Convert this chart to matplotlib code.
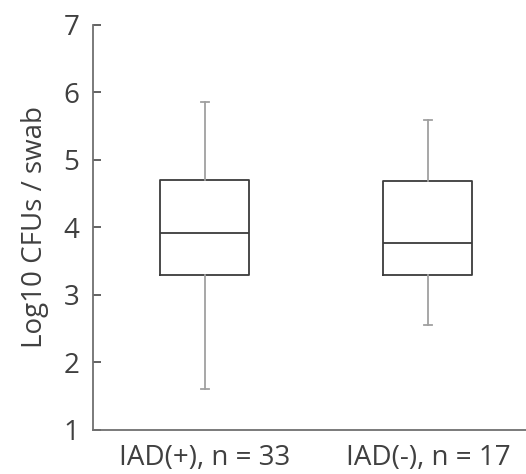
import matplotlib
matplotlib.use('Agg')
import matplotlib.pyplot as plt

# values
groups = ['IAD(+), n = 33', 'IAD(-), n = 17']
whisker_low = [1.60, 2.55]
q1 = [3.29, 3.30]
median = [3.91, 3.76]
q3 = [4.70, 4.69]
whisker_high = [5.85, 5.59]

plt.rcParams['font.family'] = ['Open Sans', 'DejaVu Sans']

fig = plt.figure(figsize=(5.26, 4.74), dpi=100)
ax = fig.add_axes([0.177, 0.093, 0.823, 0.855])

stats = []
for i in range(len(groups)):
    stats.append({'label': groups[i], 'whislo': whisker_low[i], 'q1': q1[i],
                  'med': median[i], 'q3': q3[i], 'whishi': whisker_high[i],
                  'fliers': []})

ax.bxp(stats, positions=[1, 2], widths=0.4, showfliers=False,
       boxprops=dict(color='#3c3c3c', linewidth=1.3),
       medianprops=dict(color='#3c3c3c', linewidth=1.3),
       whiskerprops=dict(color='#a0a0a0', linewidth=1.3),
       capprops=dict(color='#a0a0a0', linewidth=1.3),
       capwidths=0.035)

ax.set_xlim(0.5, 2.44)
ax.set_ylim(1, 7)
ax.set_yticks(range(1, 8))

for s in ['top', 'right']:
    ax.spines[s].set_visible(False)
for s in ['left', 'bottom']:
    ax.spines[s].set_color('#707070')
    ax.spines[s].set_linewidth(1.3)

ax.tick_params(axis='y', direction='in', length=6, width=1.3, color='#555555',
               labelsize=20, labelcolor='#404040', pad=10)
ax.tick_params(axis='x', length=0, labelsize=20, labelcolor='#404040', pad=10)

ax.set_ylabel('Log10 CFUs / swab', fontsize=20, color='#404040', labelpad=10)

fig.savefig('out.png', dpi=100)
